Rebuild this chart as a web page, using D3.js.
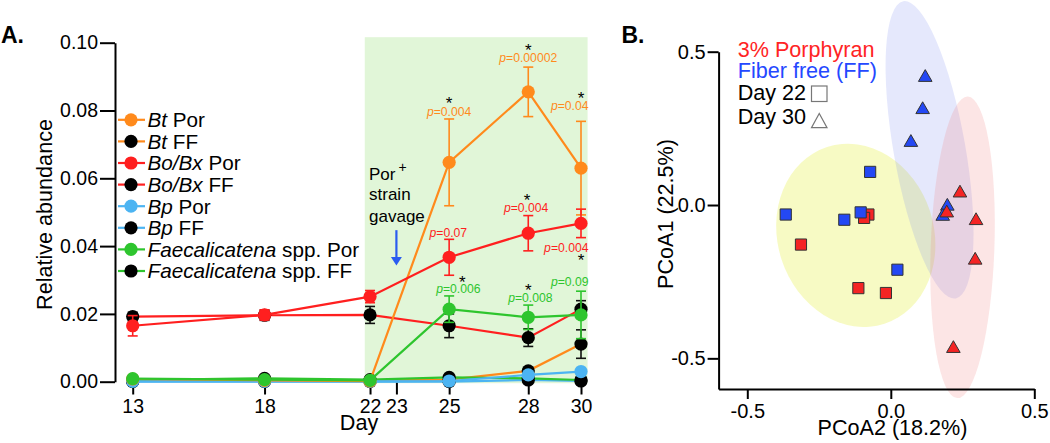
<!DOCTYPE html>
<html><head><meta charset="utf-8">
<script src="https://cdn.jsdelivr.net/npm/d3@7"></script>
<style>
html,body{margin:0;padding:0;background:#fff;}
svg{display:block;font-family:"Liberation Sans",Arial,Helvetica,sans-serif;}
</style></head>
<body>
<svg id="chart" width="1050" height="443"></svg>
<script>
// ---------- Panel A data ----------
const days = [13, 18, 22, 25, 28, 30];
const tickDays = [13, 18, 22, 23, 25, 28, 30];
const yTicksA = [0, 0.02, 0.04, 0.06, 0.08, 0.10];

const btPor    = [0.0008, 0.0004, 0.0002, 0.0647, 0.0855, 0.0630];
const btPorErr = [0, 0, 0, 0.0128, 0.0073, 0.0138];
const btFF     = [0.0002, 0.0003, 0.0003, 0.0006, 0.0032, 0.0111];
const btFFErr  = [0, 0, 0, 0, 0.0005, 0.0042];
const boPor    = [0.0165, 0.0197, 0.0251, 0.0367, 0.0438, 0.0467];
const boPorErr = [0.0030, 0.0015, 0.0018, 0.0053, 0.0052, 0.0042];
const boFF     = [0.0192, 0.0196, 0.0197, 0.0165, 0.0130, 0.0214];
const boFFErr  = [0.0013, 0.0015, 0.0025, 0.0035, 0.0026, 0.0025];
const bpPor    = [0.0001, 0.0001, 0.0001, 0.0002, 0.0020, 0.0030];
const bpPorErr = [0, 0, 0, 0, 0, 0];
const bpFF     = [0, 0, 0, 0, 0.0005, 0.0002];
const bpFFErr  = [0, 0, 0, 0, 0, 0];
const faPor    = [0.0009, 0.0006, 0.0004, 0.0214, 0.0190, 0.0197];
const faPorErr = [0, 0, 0, 0.0039, 0.0036, 0.0070];
const faFF     = [0.0005, 0.0010, 0.0006, 0.0013, 0.0010, 0.0005];
const faFFErr  = [0, 0, 0, 0, 0, 0];

const gavageWindow = [21.8, 30.25];   // shaded period (days)
const gavageDay = 23;

// significance annotations: [day, value, text, colour-key, anchor]
const pLabels = [
  [25, 0.0785, "0.004", "orange", "middle"],
  [28, 0.0942, "0.00002", "orange", "middle"],
  [30, 0.0802, "0.04", "orange", "end"],
  [27.92, 0.0501, "0.004", "red", "middle"],
  [24.97, 0.0426, "0.07", "red", "middle"],
  [30, 0.0383, "0.004", "red", "end"],
  [25.35, 0.0263, "0.006", "green", "middle"],
  [28.08, 0.0236, "0.008", "green", "middle"],
  [30, 0.0282, "0.09", "green", "end"]
];
const stars = [
  [25, 0.0831], [28, 0.0988], [30, 0.0846], [27.95, 0.0546],
  [30, 0.0369], [25.5, 0.0305], [28, 0.0282]
];

// ---------- Panel B data ----------
const bTicks = [-0.5, 0, 0.5];
const porD22x = [-0.078, -0.093, -0.313, -0.113, -0.017];
const porD22y = [-0.031, -0.042, -0.129, -0.271, -0.287];
const ffD22x  = [-0.072, -0.366, -0.162, -0.105, 0.023];
const ffD22y  = [0.108, -0.031, -0.048, -0.024, -0.211];
const ffD30x  = [0.120, 0.111, 0.070, 0.197, 0.181];
const ffD30y  = [0.416, 0.311, 0.204, -0.004, -0.037];
const porD30x = [0.241, 0.195, 0.297, 0.294, 0.218];
const porD30y = [0.039, -0.026, -0.051, -0.180, -0.468];

// ellipses: centre x, centre y, radius x, radius y, rotation (deg)
const ellD22   = [-0.122, -0.099, 0.272, 0.303, -18];
const ellFFD30 = [0.135, 0.180, 0.125, 0.492, -10];
const ellPorD30= [0.250, -0.138, 0.111, 0.492, 2];

// ---------- styles ----------
const C = {orange:"#ff8a1c", red:"#ff1f1f", blue:"#4cb4f2", green:"#2ec52e",
           black:"#000", bRed:"#f42424", bBlue:"#2448f4"};

const svg = d3.select("#chart");

// ================= PANEL A =================
const xA = d3.scaleLinear().domain([13, 30]).range([132.7, 581]);
const yA = d3.scaleLinear().domain([0, 0.10]).range([381.7, 42.7]);

svg.append("rect")
  .attr("x", xA(gavageWindow[0])).attr("y", yA(0.1) - 5.5)
  .attr("width", xA(gavageWindow[1]) - xA(gavageWindow[0]))
  .attr("height", yA(0) - yA(0.1) + 7)
  .attr("fill", "#e1f6d8");

// y axis
const gYA = svg.append("g").attr("transform", "translate(115,0)")
  .call(d3.axisLeft(yA).tickValues(yTicksA).tickFormat(d3.format(".2f"))
        .tickSize(15).tickSizeOuter(0).tickPadding(2));
gYA.selectAll("path,line").attr("stroke", "#000").attr("stroke-width", 2);
gYA.selectAll("text").attr("font-size", 19.5).attr("fill", "#000")
   .attr("font-family", "'Liberation Sans',Arial,sans-serif");

// x axis (ticks only)
const gXA = svg.append("g").attr("transform", "translate(0,382.5)")
  .call(d3.axisBottom(xA).tickValues(tickDays).tickFormat(d3.format("d"))
        .tickSize(12).tickPadding(5));
gXA.select(".domain").remove();
gXA.selectAll("line").attr("stroke", "#000").attr("stroke-width", 2);
gXA.selectAll("text").attr("font-size", 19.5).attr("fill", "#000")
   .attr("font-family", "'Liberation Sans',Arial,sans-serif");

const series = [
  {vals: btFF, err: btFFErr, line: C.orange, mk: C.black},
  {vals: bpFF, err: bpFFErr, line: C.blue, mk: C.black},
  {vals: faFF, err: faFFErr, line: C.green, mk: C.black},
  {vals: boFF, err: boFFErr, line: C.red, mk: C.black},
  {vals: bpPor, err: bpPorErr, line: C.blue, mk: C.blue},
  {vals: btPor, err: btPorErr, line: C.orange, mk: C.orange},
  {vals: boPor, err: boPorErr, line: C.red, mk: C.red},
  {vals: faPor, err: faPorErr, line: C.green, mk: C.green}
];
const lineGen = d3.line().x((d, i) => xA(days[i])).y(d => yA(d));

series.forEach(s => {
  const g = svg.append("g");
  g.append("path").datum(s.vals).attr("d", lineGen)
    .attr("fill", "none").attr("stroke", s.line).attr("stroke-width", 2.2);
  s.vals.forEach((v, i) => {
    const e = s.err[i];
    if (e > 0) {
      const x = xA(days[i]);
      const ec = s.mk === C.black ? "#111" : s.mk;
      g.append("line").attr("x1", x).attr("x2", x).attr("y1", yA(v + e)).attr("y2", yA(v - e))
        .attr("stroke", ec).attr("stroke-width", 1.6);
      [v + e, v - e].forEach(w => g.append("line").attr("x1", x - 5).attr("x2", x + 5)
        .attr("y1", yA(w)).attr("y2", yA(w)).attr("stroke", ec).attr("stroke-width", 1.6));
    }
  });
  g.selectAll("circle").data(s.vals).enter().append("circle")
    .attr("cx", (d, i) => xA(days[i])).attr("cy", d => yA(d)).attr("r", 6.6)
    .attr("fill", s.mk);
});

// legend
const legendItems = [
  {it: "Bt", rest: " Por", line: C.orange, mk: C.orange},
  {it: "Bt", rest: " FF", line: C.orange, mk: C.black},
  {it: "Bo/Bx", rest: " Por", line: C.red, mk: C.red},
  {it: "Bo/Bx", rest: " FF", line: C.red, mk: C.black},
  {it: "Bp", rest: " Por", line: C.blue, mk: C.blue},
  {it: "Bp", rest: " FF", line: C.blue, mk: C.black},
  {it: "Faecalicatena", rest: " spp. Por", line: C.green, mk: C.green},
  {it: "Faecalicatena", rest: " spp. FF", line: C.green, mk: C.black}
];
legendItems.forEach((d, i) => {
  const cy = 119.8 + i * 21.6;
  svg.append("line").attr("x1", 118).attr("x2", 145).attr("y1", cy).attr("y2", cy)
    .attr("stroke", d.line).attr("stroke-width", 2.2);
  svg.append("circle").attr("cx", 131).attr("cy", cy).attr("r", 6.6).attr("fill", d.mk);
  const t = svg.append("text").attr("x", 147.5).attr("y", cy + 7.3).attr("font-size", 20.7).attr("fill", "#000");
  t.append("tspan").attr("font-style", "italic").text(d.it);
  t.append("tspan").text(d.rest);
});

// p-values
pLabels.forEach(([dd, v, txt, col, anc]) => {
  const t = svg.append("text")
    .attr("x", anc === "end" ? xA(dd) + 7.5 : xA(dd)).attr("y", yA(v))
    .attr("text-anchor", anc).attr("font-size", 12.2).attr("fill", C[col]);
  t.append("tspan").attr("font-style", "italic").text("p");
  t.append("tspan").text("=" + txt);
});
stars.forEach(([dd, v]) => {
  svg.append("text").attr("x", xA(dd)).attr("y", yA(v) + 9.5)
    .attr("text-anchor", "middle").attr("font-size", 17).attr("fill", "#000").text("*");
});

// gavage note + arrow
const note = svg.append("text").attr("font-size", 17).attr("fill", "#000");
note.append("tspan").attr("x", xA(22) - 1).attr("y", yA(0.0595)).text("Por");
note.append("tspan").attr("font-size", 14).attr("dy", -8).attr("dx", 3).text("+");
note.append("tspan").attr("x", xA(22) - 1).attr("y", yA(0.0536)).text("strain");
note.append("tspan").attr("x", xA(22) - 1).attr("y", yA(0.0472)).text("gavage");
const ax = xA(gavageDay);
svg.append("line").attr("x1", ax).attr("x2", ax).attr("y1", yA(0.0447)).attr("y2", yA(0.0365))
  .attr("stroke", "#2a5cf0").attr("stroke-width", 2.2);
svg.append("path")
  .attr("d", `M${ax - 5.5},${yA(0.0368)} L${ax + 5.5},${yA(0.0368)} L${ax},${yA(0.0343)} Z`)
  .attr("fill", "#2a5cf0");

// labels
svg.append("text").attr("transform", "translate(51.5,214.5) rotate(-90)")
  .attr("text-anchor", "middle").attr("font-size", 21.6).text("Relative abundance");
svg.append("text").attr("x", 359).attr("y", 430).attr("text-anchor", "middle")
  .attr("font-size", 21.6).text("Day");
svg.append("text").attr("x", 1).attr("y", 43).attr("font-size", 23)
  .attr("font-weight", "bold").text("A.");

// ================= PANEL B =================
const xB = d3.scaleLinear().domain([-0.6, 0.5]).range([718.6, 1034.3]);
const yB = d3.scaleLinear().domain([-0.6, 0.5]).range([389, 51.7]);

function ellipse(p, fill, op) {
  const rx = xB(p[2]) - xB(0), ry = yB(0) - yB(p[3]);
  svg.append("ellipse")
    .attr("transform", `translate(${xB(p[0])},${yB(p[1])}) rotate(${p[4]})`)
    .attr("rx", rx).attr("ry", ry).attr("fill", fill).attr("fill-opacity", op);
}
ellipse(ellD22, "#e6ef3c", 0.3);
ellipse(ellFFD30, "#7f8ef2", 0.2);
ellipse(ellPorD30, "#f27f7f", 0.2);

const gYB = svg.append("g").attr("transform", "translate(718.6,0)")
  .call(d3.axisLeft(yB).tickValues(bTicks).tickFormat(d => d3.format(".1f")(d).replace("−", "-"))
        .tickSize(11).tickSizeOuter(0).tickPadding(2));
const gXB = svg.append("g").attr("transform", "translate(0,389)")
  .call(d3.axisBottom(xB).tickValues(bTicks).tickFormat(d => d3.format(".1f")(d).replace("−", "-"))
        .tickSize(10).tickSizeOuter(0).tickPadding(5));
[gYB, gXB].forEach(g => {
  g.selectAll("path,line").attr("stroke", "#000").attr("stroke-width", 2);
  g.selectAll("text").attr("font-size", 20).attr("fill", "#000")
    .attr("font-family", "'Liberation Sans',Arial,sans-serif");
});

const sq = d3.symbol().type(d3.symbolSquare).size(125);
const tri = d3.symbol().type(d3.symbolTriangle).size(80);
function pts(xs, ys, sym, fill) {
  svg.append("g").selectAll("path").data(xs).enter().append("path")
    .attr("d", sym)
    .attr("transform", (d, i) => `translate(${xB(d)},${yB(ys[i])})`)
    .attr("fill", fill).attr("stroke", "#333").attr("stroke-width", 1);
}
pts(porD22x, porD22y, sq, C.bRed);
pts(ffD22x, ffD22y, sq, C.bBlue);
pts(ffD30x, ffD30y, tri, C.bBlue);
pts(porD30x, porD30y, tri, C.bRed);

// legend B
svg.append("text").attr("x", 737.7).attr("y", 57).attr("font-size", 21.6).attr("fill", "#ff2424").text("3% Porphyran");
svg.append("text").attr("x", 737.7).attr("y", 77.5).attr("font-size", 21.6).attr("fill", "#2448ff").text("Fiber free (FF)");
svg.append("text").attr("x", 737.7).attr("y", 100).attr("font-size", 21.6).attr("fill", "#000").text("Day 22");
svg.append("text").attr("x", 737.7).attr("y", 124).attr("font-size", 21.6).attr("fill", "#000").text("Day 30");
svg.append("rect").attr("x", 811.5).attr("y", 86).attr("width", 15.5).attr("height", 15.5)
  .attr("fill", "none").attr("stroke", "#777").attr("stroke-width", 1.2);
svg.append("path").attr("d", "M811.5,127.7 L827,127.7 L819.25,113.5 Z")
  .attr("fill", "none").attr("stroke", "#777").attr("stroke-width", 1.2);

svg.append("text").attr("transform", "translate(673.3,214) rotate(-90)")
  .attr("text-anchor", "middle").attr("font-size", 21.6).text("PCoA1 (22.5%)");
svg.append("text").attr("x", 892.5).attr("y", 435).attr("text-anchor", "middle")
  .attr("font-size", 21.6).text("PCoA2 (18.2%)");
svg.append("text").attr("x", 621.5).attr("y", 43.3).attr("font-size", 23)
  .attr("font-weight", "bold").text("B.");
</script>
</body></html>
